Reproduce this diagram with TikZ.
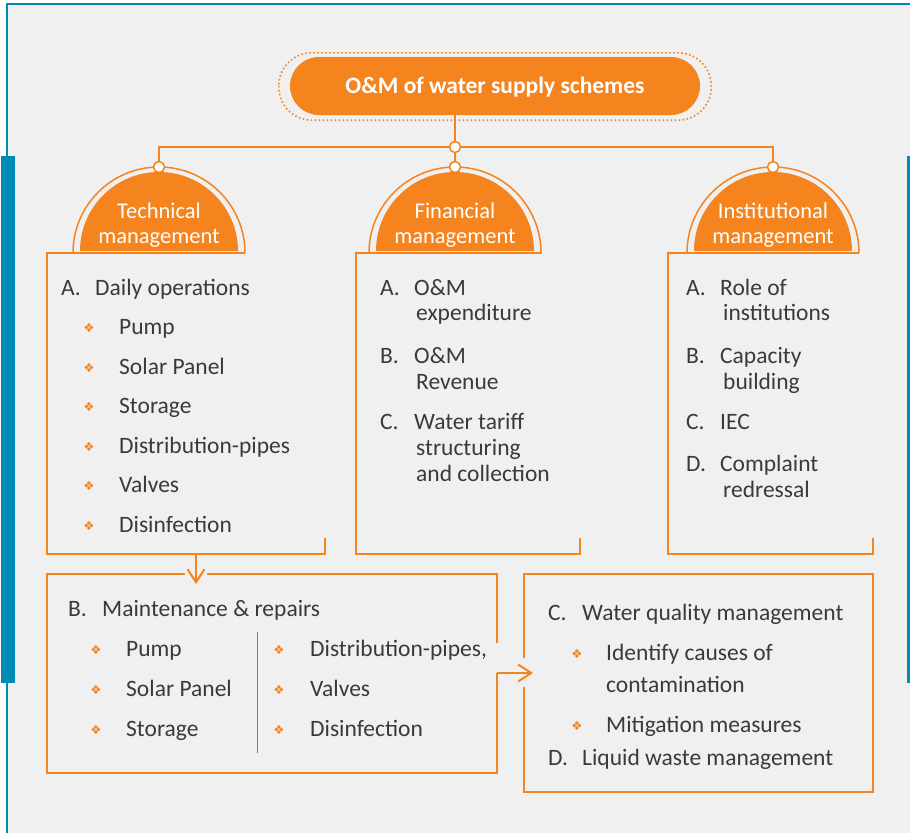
\documentclass[tikz,border=0pt]{standalone}
\usepackage{fontspec}
\setmainfont{Carlito}
\newfontfamily\bulfont{DejaVu Sans}
\usetikzlibrary{arrows.meta}
\definecolor{omorange}{HTML}{F5841F}
\definecolor{omblue}{HTML}{008AB8}
\definecolor{omback}{HTML}{F0F0F0}
\definecolor{omtext}{HTML}{3A3A3A}
\definecolor{omrule}{HTML}{7F7F7F}
\tikzset{
  box/.style={draw=omorange, line width=2pt},
  link/.style={draw=omorange, line width=2pt},
  joint/.style={circle, draw=omorange, fill=white, line width=1.5pt, minimum size=11pt, inner sep=0pt},
  title/.style={rectangle, rounded corners=29pt, fill=omorange, text=white,
    font=\bfseries\fontsize{23.5}{28}\selectfont, minimum width=410pt, minimum height=58pt},
  domelabel/.style={align=center, inner sep=0pt, text=white, font=\fontsize{22.5}{25}\selectfont},
  txt/.style={anchor=base west, inner sep=0pt, text=omtext, font=\fontsize{23.5}{28}\selectfont},
  bul/.style={inner sep=0pt, text=omorange, font=\bulfont\fontsize{12.5}{12.5}\selectfont},
  barb/.style={-{Straight Barb[length=13pt,width=17pt]}}
}
\begin{document}
\begin{tikzpicture}[x=1pt, y=-1pt]
\useasboundingbox (0,0) rectangle (910,833);
% frame
\fill[white] (0,0) rectangle (910,833);
\fill[omback] (7,4) rectangle (910,833);
\draw[omblue, line width=2pt] (7,833) -- (7,4) -- (910,4);
\fill[omblue] (1,156) rectangle (15,683);
\fill[omblue] (907,156) rectangle (910,683);

% title
\node[title] (title) at (495,86) {\raisebox{-7.5pt}[0pt][0pt]{O\&M of water supply schemes}};
\draw[omorange, line width=1.6pt, dash pattern=on 1.6pt off 2.4pt, rounded corners=33pt]
  ([xshift=-11pt,yshift=4pt]title.north west) rectangle ([xshift=11pt,yshift=-5pt]title.south east);

% column boxes
\draw[box] (245,253) -- (47,253) -- (47,554) -- (325,554) -- (325,538);
\draw[box] (542,253) -- (356,253) -- (356,554) -- (580,554) -- (580,538);
\draw[box] (859,253) -- (668,253) -- (668,554) -- (873,554) -- (873,538);

% domes
\foreach \x/\n/\a in {159/tech/Technical, 455/fin/Financial, 773/inst/Institutional}{
  \draw[omorange, line width=1.5pt] (\x-86,253) arc[start angle=180, end angle=0, radius=86pt];
  \fill[omorange] (\x-79,251) arc[start angle=180, end angle=0, radius=79pt] -- cycle;
  \node[domelabel] (\n) at (\x,225) {\a\\management};
  \node[joint] (j\n) at (\x,167) {};
}

% connectors
\node[joint] (j0) at (455,147) {};
\draw[link] (title.south -| j0) -- (j0);
\draw[link] (jtech) -- (jtech |- j0) -- (j0);
\draw[link] (j0) -- (jinst |- j0) -- (jinst);
\draw[link] (j0) -- (jfin);

% technical
\node[txt] (ta) at (61,295) {A.};
\node[txt] (tat) at (95,295) {Daily operations};
\foreach \t [count=\i] in {Pump,Solar Panel,Storage,Distribution-pipes,Valves,Disinfection}{
  \node[bul] (tb\i) at (89,295+39.5*\i-6.5) {❖};
  \node[txt] (t\i) at (119,295+39.5*\i) {\t};
}

% financial
\foreach \y/\l [count=\i] in {295/A., 363/B., 429/C.}
  \node[txt] (fl\i) at (380,\y) {\l};
\foreach \x/\y/\t [count=\i] in {414/295/O\&M, 416/320/expenditure, 414/363/O\&M, 416/389/Revenue,
    414/429/Water tariff, 416/455/structuring, 416/481/and collection}
  \node[txt] (ft\i) at (\x,\y) {\t};

% institutional
\foreach \y/\l [count=\i] in {295/A., 363/B., 429/C., 471/D.}
  \node[txt] (il\i) at (686,\y) {\l};
\foreach \x/\y/\t [count=\i] in {720/295/Role of, 723/320/institutions, 720/363/Capacity, 723/389/building,
    720/429/IEC, 720/471/Complaint, 723/497/redressal}
  \node[txt] (it\i) at (\x,\y) {\t};

% maintenance box
\coordinate (tout) at (196,554);
\coordinate (bin) at (196,584);
\coordinate (bout) at (497,673);
\coordinate (cdin) at (533,673);
\draw[box, barb] (tout) -- (bin);
\draw[box] (207,574) -- (497,574) -- (497,643);
\draw[box] (185,574) -- (47,574) -- (47,773) -- (497,773) -- (bout);
\draw[box, barb] (bout) -- (cdin);
\draw[omrule, line width=1pt] (257,632) -- (257,753);
\node[txt] (mb) at (68,616) {B.};
\node[txt] (mbt) at (102,616) {Maintenance \& repairs};
\foreach \t [count=\i] in {Pump,Solar Panel,Storage}{
  \node[bul] (mlb\i) at (96,616+40*\i-6.5) {❖};
  \node[txt] (ml\i) at (126,616+40*\i) {\t};
}
\foreach \t [count=\i] in {Distribution-pipes{,},Valves,Disinfection}{
  \node[bul] (mrb\i) at (279,616+40*\i-6.5) {❖};
  \node[txt] (mr\i) at (310,616+40*\i) {\t};
}

% quality / waste box
\draw[box] (524,658) -- (524,574) -- (873,574) -- (873,792) -- (524,792) -- (524,687);
\node[txt] (qc) at (548,620) {C.};
\node[txt] (qct) at (582,620) {Water quality management};
\node[bul] (qb1) at (577,653.5) {❖};
\node[txt] (q1) at (606,660) {Identify causes of};
\node[txt] (q2) at (606,692) {contamination};
\node[bul] (qb2) at (577,725.5) {❖};
\node[txt] (q3) at (606,732) {Mitigation measures};
\node[txt] (qd) at (548,765) {D.};
\node[txt] (qdt) at (582,765) {Liquid waste management};
\end{tikzpicture}
\end{document}
